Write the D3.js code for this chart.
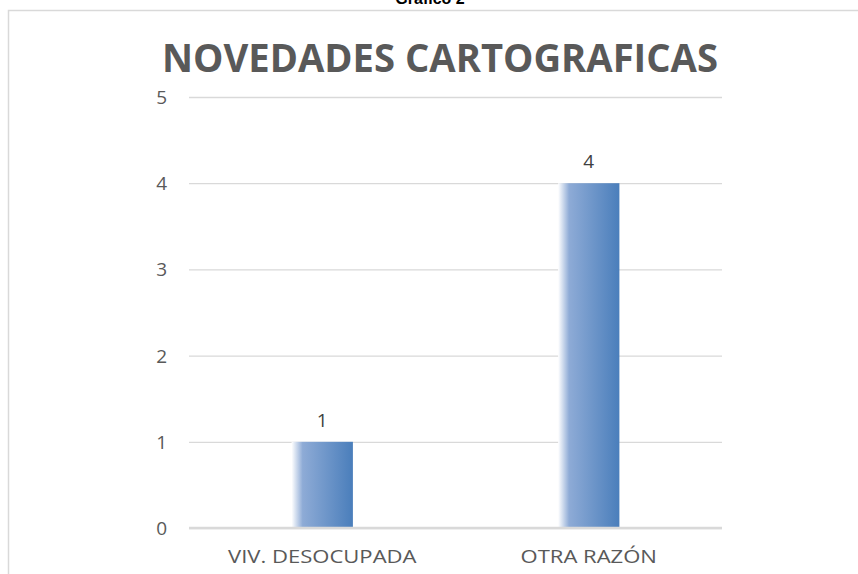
<!DOCTYPE html>
<html>
<head>
<meta charset="utf-8">
<script src="https://cdn.jsdelivr.net/npm/d3@7"></script>
<style>
  body { margin: 0; background: #fff; }
  svg text { font-family: "Open Sans", "Liberation Sans", sans-serif; }
</style>
</head>
<body>
<div id="chart"></div>
<script>
var categories = ["VIV. DESOCUPADA", "OTRA RAZÓN"]
var values = [1, 4]
var yTicks = [0, 1, 2, 3, 4, 5]

var W = 858, H = 574
var margin = {top: 97, right: 136, bottom: 46, left: 189}
var width = W - margin.left - margin.right
var height = H - margin.top - margin.bottom

var svg = d3.select("#chart").append("svg")
    .attr("width", W).attr("height", H)

var defs = svg.append("defs")
var grad = defs.append("linearGradient").attr("id", "barGrad")
    .attr("x1", "0%").attr("x2", "100%").attr("y1", "0%").attr("y2", "0%")
grad.append("stop").attr("offset", "0%").attr("stop-color", "#ffffff")
grad.append("stop").attr("offset", "18%").attr("stop-color", "#8eabd6")
grad.append("stop").attr("offset", "100%").attr("stop-color", "#4a7ebb")

// heading above the chart box (cut off by the top edge, as in the source)
svg.append("text")
    .attr("x", 430).attr("y", 4)
    .attr("text-anchor", "middle")
    .style("font-family", "'Liberation Sans', Arial, sans-serif")
    .style("font-weight", "bold").style("font-size", "16px")
    .style("fill", "#000")
    .text("Gráfico 2")

// chart box border (top and left)
svg.append("path")
    .attr("d", "M8.5," + H + "V10.5H" + W)
    .style("fill", "none").style("stroke", "#d9d9d9").style("stroke-width", 1.5)

var g = svg.append("g").attr("transform", "translate(" + margin.left + "," + margin.top + ")")

var x = d3.scaleBand().domain(categories).range([0, width]).paddingInner(0.77).paddingOuter(0.385)
var y = d3.scaleLinear().domain([0, 5]).range([height, 0])

// gridlines
g.append("g")
    .call(d3.axisLeft(y).tickValues(yTicks).tickSize(-width).tickFormat(""))
    .call(function(a) {
        a.select(".domain").remove()
        a.selectAll("line").style("stroke", "#d9d9d9").style("stroke-width", 1.3)
    })

// y labels
g.append("g").selectAll("text").data(yTicks).enter().append("text")
    .attr("x", -22).attr("y", function(d) { return y(d) + 7 })
    .attr("text-anchor", "end")
    .style("font-size", "19px").style("fill", "#595959")
    .text(function(d) { return d })

// bars
g.selectAll(".bar").data(values).enter().append("rect")
    .attr("class", "bar")
    .attr("x", function(d, i) { return x(categories[i]) })
    .attr("width", x.bandwidth())
    .attr("y", function(d) { return y(d) })
    .attr("height", function(d) { return height - y(d) })
    .style("fill", "url(#barGrad)")

// zero axis
g.append("line")
    .attr("x1", 0).attr("x2", width).attr("y1", y(0)).attr("y2", y(0))
    .style("stroke", "#d9d9d9").style("stroke-width", 2.5)

// data labels
g.selectAll(".lbl").data(values).enter().append("text")
    .attr("x", function(d, i) { return x(categories[i]) + x.bandwidth() / 2 })
    .attr("y", function(d) { return y(d) - 15 })
    .attr("text-anchor", "middle")
    .style("font-size", "19px").style("fill", "#404040")
    .text(function(d) { return d })

// category labels
g.selectAll(".cat").data(categories).enter().append("text")
    .attr("x", function(d) { return x(d) + x.bandwidth() / 2 })
    .attr("y", height + 35)
    .attr("text-anchor", "middle")
    .style("font-size", "19px").style("fill", "#595959")
    .text(function(d) { return d })
    .each(function(d) {
        // source labels are a wider face; stretch a bit to match
        var len = this.getComputedTextLength()
        d3.select(this).attr("textLength", len * 1.16).attr("lengthAdjust", "spacingAndGlyphs")
    })

// title
svg.append("text")
    .attr("x", 440).attr("y", 72)
    .attr("text-anchor", "middle")
    .attr("textLength", 556).attr("lengthAdjust", "spacingAndGlyphs")
    .style("font-weight", "bold").style("font-size", "40px").style("fill", "#595959")
    .text("NOVEDADES CARTOGRAFICAS")
</script>
</body>
</html>
